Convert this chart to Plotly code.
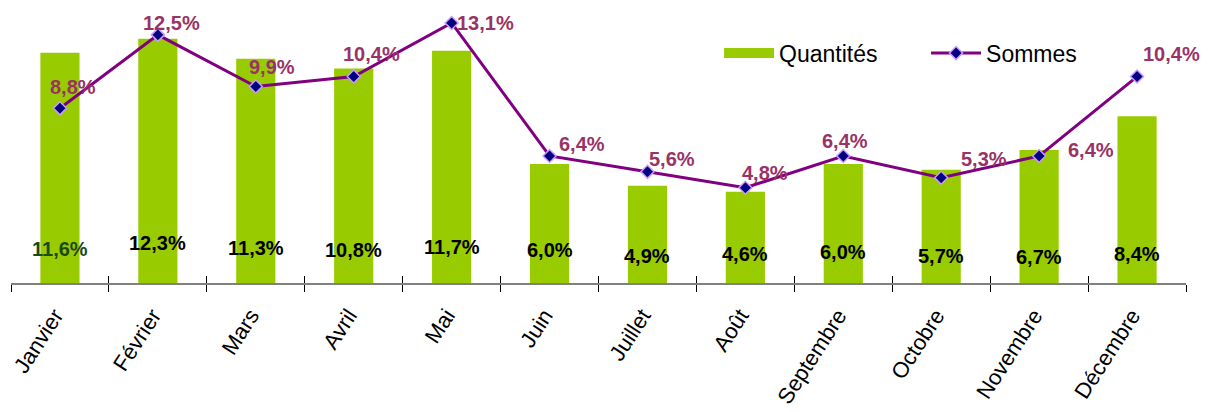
import plotly.graph_objects as go

# ---- data ----
months = ["Janvier", "Février", "Mars", "Avril", "Mai", "Juin", "Juillet",
          "Août", "Septembre", "Octobre", "Novembre", "Décembre"]
quantites = [11.6, 12.3, 11.3, 10.8, 11.7, 6.0, 4.9, 4.6, 6.0, 5.7, 6.7, 8.4]
sommes = [8.8, 12.5, 9.9, 10.4, 13.1, 6.4, 5.6, 4.8, 6.4, 5.3, 6.4, 10.4]

# label styling (pixel offsets of the data labels)
bar_label_yshift = [0, 6, 1, -1, 2, -1, -7, -5, -3, -7, -8, -5]
bar_label_colors = ["#1a4a1a"] + ["#000000"] * 11
line_label_xshift = [13, 14, 16, 18, 34, 32, 25, 20, 2, 43, 52, 34]
line_label_yshift = [21, 12, 19, 23, 0, 12, 13, 15, 15, 19, 6, 23]

FONT = "Arial, Liberation Sans, sans-serif"
GREEN = "#99CC00"
PURPLE = "#800080"
LABEL_PURPLE = "#993366"
BAR_LABEL_Y = 1.7

fig = go.Figure()
fig.add_trace(go.Bar(
    x=months, y=quantites, name="Quantités", showlegend=False,
    marker=dict(color=GREEN, line=dict(width=0)),
    hoverinfo="skip",
))
# legend swatch for the bars (wide rectangle, as in the original legend)
fig.add_trace(go.Scatter(
    x=[None], y=[None], name="Quantités", mode="lines",
    line=dict(color=GREEN, width=15), hoverinfo="skip",
))
fig.add_trace(go.Scatter(
    x=months, y=sommes, name="Sommes", mode="lines+markers",
    line=dict(color=PURPLE, width=3),
    marker=dict(symbol="diamond", size=10, color="#000080",
                line=dict(color="#CC99FF", width=1.5)),
    hoverinfo="skip",
))
# helper trace on the overlay axis used for the inside tick marks
fig.add_trace(go.Scatter(x=[None], y=[None], xaxis="x2", yaxis="y",
                         showlegend=False, hoverinfo="skip"))

annotations = []
for m, q, ys, c in zip(months, quantites, bar_label_yshift, bar_label_colors):
    annotations.append(dict(
        x=m, y=BAR_LABEL_Y, xref="x", yref="y", text=f"{q:.1f}%".replace(".", ","),
        showarrow=False, yshift=ys,
        font=dict(family=FONT, size=20, color=c, weight="bold"),
    ))
for m, s, xs, ys in zip(months, sommes, line_label_xshift, line_label_yshift):
    annotations.append(dict(
        x=m, y=s, xref="x", yref="y", text=f"{s:.1f}%".replace(".", ","),
        showarrow=False, xshift=xs, yshift=ys,
        font=dict(family=FONT, size=20, color=LABEL_PURPLE, weight="bold"),
    ))

# the page body adds an 8px margin around the figure
fig.update_layout(
    width=1193, height=396,
    margin=dict(l=3, r=15, t=2, b=121, autoexpand=False),
    paper_bgcolor="white", plot_bgcolor="white",
    bargap=0.6,
    showlegend=True,
    legend=dict(
        orientation="h", x=0.6026, xanchor="left", y=0.842, yanchor="middle",
        font=dict(family=FONT, size=23, color="#000000"),
        itemwidth=50,
        entrywidth=142, entrywidthmode="pixels",
        bgcolor="rgba(0,0,0,0)",
    ),
    font=dict(family=FONT, color="#000000"),
    annotations=annotations,
    xaxis=dict(
        type="category", range=[-0.5, 11.5], automargin=False,
        showline=True, linecolor="#808080", linewidth=2,
        ticks="outside", tickson="boundaries", ticklen=7, tickcolor="#000000", tickwidth=1,
        tickangle=-57, tickfont=dict(family=FONT, size=22, color="#000000"),
        ticklabelstandoff=9, ticklabelshift=-5,
        showgrid=False, zeroline=False,
    ),
    xaxis2=dict(
        overlaying="x", anchor="y", side="bottom", range=[-0.5, 11.5], automargin=False,
        tickmode="linear", tick0=-0.5, dtick=1,
        ticks="inside", ticklen=7, tickcolor="#000000", tickwidth=1,
        showticklabels=False, showgrid=False, zeroline=False, showline=False,
    ),
    yaxis=dict(range=[0, 273 / 19.85], visible=False, showgrid=False, zeroline=False,
               automargin=False),
)

fig.write_html("out.html")
